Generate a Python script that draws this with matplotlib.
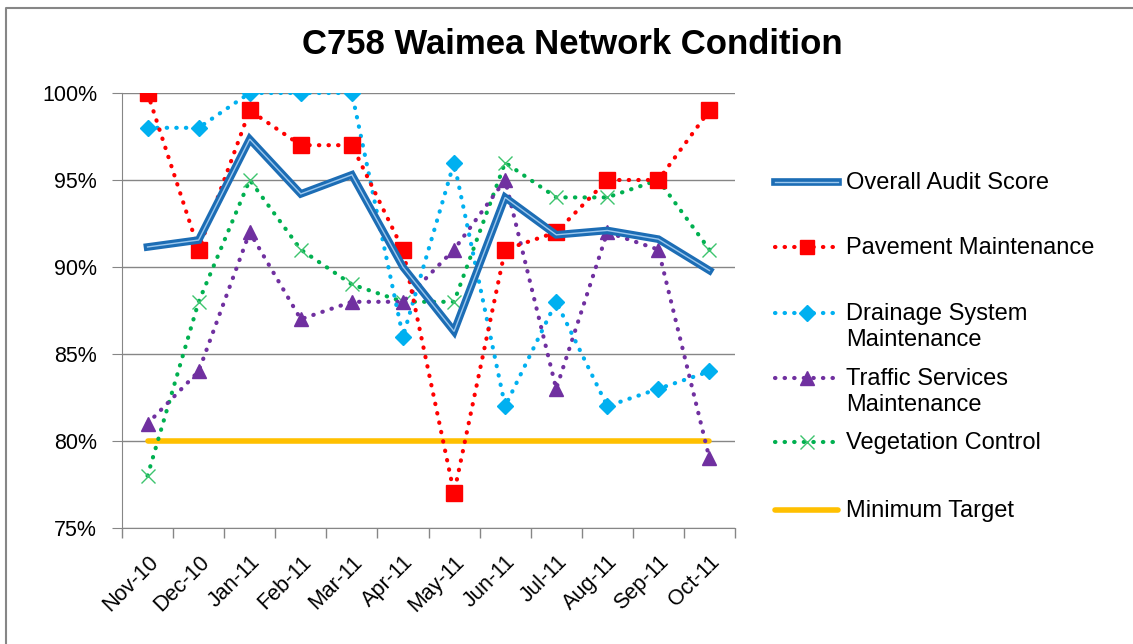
"""C758 Waimea network condition chart."""

import matplotlib
matplotlib.use("Agg")
import matplotlib.pyplot as plt
import matplotlib.patheffects as pe
from matplotlib.lines import Line2D
from matplotlib.ticker import FixedLocator, PercentFormatter

plt.rcParams["font.family"] = ["Liberation Sans", "DejaVu Sans"]

months = ["Nov-10", "Dec-10", "Jan-11", "Feb-11", "Mar-11", "Apr-11",
          "May-11", "Jun-11", "Jul-11", "Aug-11", "Sep-11", "Oct-11"]

overall = [91.15, 91.55, 97.35, 94.2, 95.3, 90.0, 86.3, 94.0, 91.85, 92.1, 91.6, 89.8]
pavement = [100, 91, 99, 97, 97, 91, 77, 91, 92, 95, 95, 99]
drainage = [98, 98, 100, 100, 100, 86, 96, 82, 88, 82, 83, 84]
traffic = [81, 84, 92, 87, 88, 88, 91, 95, 83, 92, 91, 79]
vegetation = [78, 88, 95, 91, 89, 88, 88, 96, 94, 94, 95, 91]
target = [80] * len(months)

labels = ["Overall Audit Score", "Pavement Maintenance",
          "Drainage System\nMaintenance", "Traffic Services\nMaintenance",
          "Vegetation Control", "Minimum Target"]

W, H = 1133, 644
fig = plt.figure(figsize=(W / 100, H / 100), dpi=100)
ax = fig.add_axes([122 / W, 1 - 528 / H, (735 - 122) / W, (528 - 93) / H])

x = list(range(len(months)))
dot = dict(linestyle=(0, (0.1, 2.2)), dash_capstyle="round", linewidth=3)
blue_fx = [pe.Stroke(linewidth=5.5, foreground="#1C6DB5"),
           pe.Normal()]

ax.plot(x, target, color="#FFC000", linewidth=4, solid_capstyle="round", zorder=2)
ax.plot(x, vegetation, color="#00B050", marker="x", markersize=10,
        markeredgewidth=1, markeredgecolor="#3DC46E", zorder=3, **dot)
ax.plot(x, traffic, color="#7030A0", marker="^", markersize=10, zorder=3, **dot)
ax.plot(x, drainage, color="#00B0F0", marker="D", markersize=8, zorder=3, **dot)
ax.plot(x, pavement, color="#FF0000", marker="s", markersize=11, zorder=4, **dot)
ax.plot(x, overall, color="#9CC8EE", linewidth=1, zorder=5,
        path_effects=blue_fx, solid_joinstyle="miter")

ax.set_xlim(-0.5, len(months) - 0.5)
ax.set_ylim(75, 100)
ax.yaxis.set_major_locator(FixedLocator([75, 80, 85, 90, 95, 100]))
ax.yaxis.set_major_formatter(PercentFormatter(decimals=0))
ax.grid(axis="y", color="#868686", linewidth=1)
ax.set_axisbelow(True)

ax.set_xticks([i - 0.5 for i in range(len(months) + 1)])
ax.set_xticklabels([])
ax.set_xticks(x, minor=True)
ax.set_xticklabels(months, minor=True, rotation=45, ha="right",
                   rotation_mode="anchor", fontsize=15.5)
ax.tick_params(axis="x", which="minor", length=0, pad=17)
ax.tick_params(axis="x", which="major", length=7, color="#868686", width=1)
ax.tick_params(axis="y", length=7, color="#868686", labelsize=15.5, pad=11)

for side in ("top", "right"):
    ax.spines[side].set_visible(False)
for side in ("left", "bottom"):
    ax.spines[side].set_color("#868686")

fig.text(0.505, 1 - 44 / H, "C758 Waimea Network Condition", ha="center",
         va="center", fontsize=25, fontweight="bold")

# hand-placed legend (Excel style spacing)
styles = [
    dict(color="#9CC8EE", linewidth=1, path_effects=blue_fx),
    dict(color="#FF0000", marker="s", markersize=10, **dot),
    dict(color="#00B0F0", marker="D", markersize=8, **dot),
    dict(color="#7030A0", marker="^", markersize=10, **dot),
    dict(color="#00B050", marker="x", markersize=10, markeredgewidth=1,
         markeredgecolor="#3DC46E", **dot),
    dict(color="#FFC000", linewidth=4, solid_capstyle="round"),
]
ys = [182, 247, 313, 378, 442, 510]
for lab, st, yy in zip(labels, styles, ys):
    yf = 1 - yy / H
    fig.add_artist(Line2D([775 / W, 807 / W, 838 / W], [yf] * 3,
                          markevery=[1], transform=fig.transFigure, **st))
    fig.text(846 / W, yf + 10 / H, lab, ha="left", va="top", fontsize=17,
             linespacing=1.22)

# chart frame
fig.add_artist(Line2D([6 / W, 6 / W, 1.0], [0, 1 - 8 / H, 1 - 8 / H],
                      transform=fig.transFigure, color="#868686", linewidth=1.5))

fig.savefig("out.png", dpi=100)
